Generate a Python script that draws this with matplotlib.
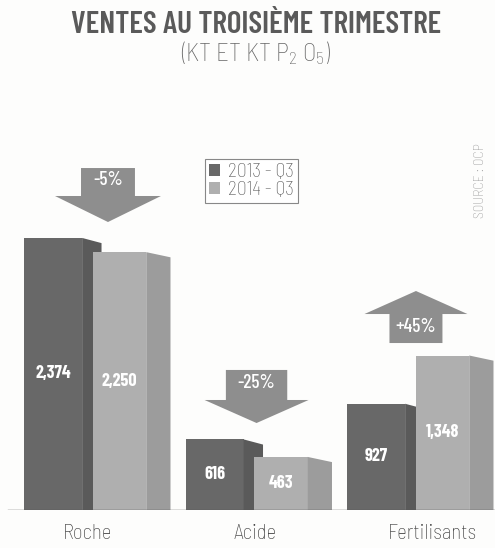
import matplotlib
matplotlib.use("Agg")
from matplotlib import pyplot as plt
from matplotlib.patches import Patch
import numpy as np

categories = ['Roche', 'Acide', 'Fertilisants']
ventes_2013 = [2374, 616, 927]
ventes_2014 = [2250, 463, 1348]
labels_2013 = ['2,374', '616', '927']
labels_2014 = ['2,250', '463', '1,348']
variations = ['-5%', '-25%', '+45%']
series = ['2013 - Q3', '2014 - Q3']

plt.rcParams['font.family'] = ['Barlow Semi Condensed', 'DejaVu Sans']
plt.rcParams['mathtext.fontset'] = 'custom'
plt.rcParams['mathtext.rm'] = 'Barlow Semi Condensed:light'
plt.rcParams['mathtext.it'] = 'Barlow Semi Condensed:light'
COND = ['Barlow Condensed', 'DejaVu Sans']

W, H = 495, 548
fig = plt.figure(figsize=(W / 100, H / 100), dpi=100)
fig.patch.set_facecolor('#fdfdfc')

base_px = 510
px_per_unit = 0.1146
ax = fig.add_axes([0, (H - base_px) / H, 1, base_px / H])
ax.set_facecolor('none')
ax.set_ylim(0, base_px / px_per_unit)
gap = 161.5
ax.set_xlim(-97 / gap, (W - 97) / gap)
for s in ax.spines.values():
    s.set_visible(False)
ax.tick_params(length=0)
ax.set_yticks([])

x = np.arange(len(categories))

dark_front, dark_side = '#686868', '#5a5a5a'
light_front, light_side = '#afafaf', '#9c9c9c'
slope = 45  # en unites de valeur

def draw_bar(xl, wf, ws, h, cf, cs):
    ax.bar(xl, h, width=wf, align='edge', color=cf, linewidth=0, zorder=2)
    xs = [xl + wf, xl + wf, xl + wf + ws, xl + wf + ws]
    ys = [0, h, h - slope, 0]
    ax.fill(xs, ys, color=cs, linewidth=0, zorder=2)

for i in range(len(categories)):
    draw_bar(x[i] - 0.452, 0.36, 0.12, ventes_2013[i], dark_front, dark_side)
    draw_bar(x[i] - 0.025, 0.33, 0.15, ventes_2014[i], light_front, light_side)
    ax.text(x[i] - 0.272, ventes_2013[i] / 2, labels_2013[i], color='white',
            fontsize=13, fontweight='bold', family=COND,
            ha='center', va='center', zorder=3)
    ax.text(x[i] + 0.14, ventes_2014[i] / 2, labels_2014[i], color='white',
            fontsize=13, fontweight='bold', family=COND,
            ha='center', va='center', zorder=3)

ax.axhline(0, xmin=8 / W, xmax=1, color='#555555', linewidth=1.0, zorder=4)

# fleches de variation : (centre x, queue, base de la pointe, pointe, demi-largeurs)
arrows = [
    (0.068, 2984, 2740, 2513, 0.167, 0.328),
    (0.988, 1222, 960, 759, 0.19, 0.322),
    (1.975, 1457, 1710, 1911, 0.164, 0.319),
]
arrow_color = '#8e8e8e'
for (xc, tail, hb, tip, rh, hh), lab in zip(arrows, variations):
    xs = [xc - rh, xc + rh, xc + rh, xc + hh, xc, xc - hh, xc - rh]
    ys = [tail, tail, hb, hb, tip, hb, hb]
    ax.fill(xs, ys, color=arrow_color, linewidth=0, zorder=2)
    ax.text(xc, (tail + hb) / 2 + 15, lab, color='white', fontsize=14,
            fontweight='medium', family=COND, ha='center', va='center', zorder=3)

label_shift = [-0.056, -0.02, 0.074]
ax.set_xticks(x + np.array(label_shift))
ax.set_xticklabels(categories, fontsize=15, fontweight='light', color='#3a3a3a')
ax.tick_params(axis='x', pad=10)

fig.text(256 / W, 1 - 25 / H, 'VENTES AU TROISIÈME TRIMESTRE', fontsize=22.5,
         fontweight='semibold', family=COND, color='#5a5a5a', ha='center', va='center')
fig.text(256 / W, 1 - 53 / H, '(KT ET KT P$_2$ O$_5$)', fontsize=18,
         fontweight='light', color='#666666', ha='center', va='center')
fig.text(481 / W, 1 - 181 / H, 'SOURCE : OCP', fontsize=10, color='#999999',
         fontweight='light', rotation=90, ha='center', va='center')

handles = [Patch(facecolor=dark_front, edgecolor='none'),
           Patch(facecolor=light_front, edgecolor='none')]
leg = fig.legend(handles, series, loc='upper left',
                 bbox_to_anchor=(205 / W, 1 - 159 / H),
                 prop={'family': ['Barlow Semi Condensed'], 'weight': 'light', 'size': 14},
                 fancybox=False, edgecolor='#888888', framealpha=1,
                 handlelength=0.55, handleheight=0.55, handletextpad=0.45,
                 borderpad=0.2, labelspacing=0.0, borderaxespad=0)
for t in leg.get_texts():
    t.set_color('#5a5a5a')
leg.get_frame().set_linewidth(0.8)

fig.savefig('out.png', dpi=100, facecolor=fig.get_facecolor())
